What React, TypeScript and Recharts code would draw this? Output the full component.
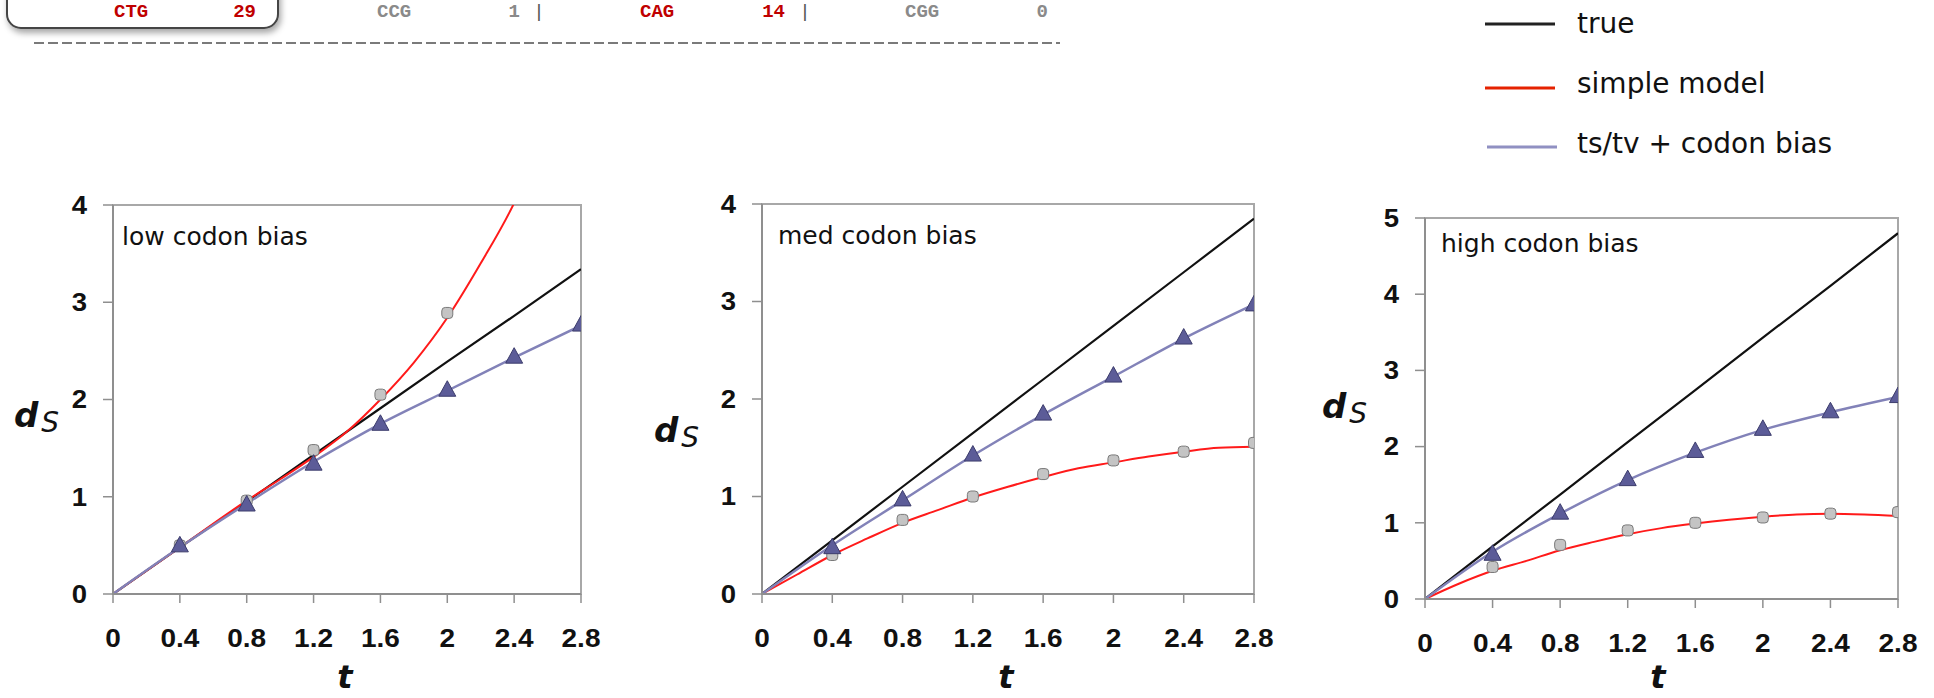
import React from 'react';
import { ComposedChart, Line, Scatter, XAxis, YAxis, ReferenceArea } from 'recharts';

// ---------- data ----------
const T_TICKS = [0, 0.4, 0.8, 1.2, 1.6, 2, 2.4, 2.8];
const T_ALL = [0, 0.4, 0.8, 1.2, 1.6, 2, 2.4, 2.8];
const T_MARK = [0.4, 0.8, 1.2, 1.6, 2, 2.4, 2.8];
const T_FINE = [0, 0.2, 0.4, 0.6, 0.8, 1.0, 1.2, 1.4, 1.6, 1.8, 2.0, 2.2, 2.4, 2.6, 2.8];

// low codon bias
const lowTrue = [0, 0.48, 0.95, 1.43, 1.91, 2.39, 2.86, 3.34];
const lowTsTv = [0, 0.48, 0.93, 1.36, 1.75, 2.09, 2.43, 2.76];
const lowSimpleT = [0, 0.4, 0.8, 1.0, 1.2, 1.4, 1.6, 1.8, 2.0, 2.2, 2.4, 2.5];
const lowSimple = [0, 0.48, 0.96, 1.18, 1.41, 1.67, 2.0, 2.38, 2.84, 3.4, 4.02, 4.4];
const lowGrayT = [0.4, 0.8, 1.2, 1.6, 2.0];
const lowGray = [0.5, 0.96, 1.48, 2.05, 2.89];
const lowTri = [0.49, 0.91, 1.33, 1.74, 2.09, 2.43, 2.76];

// med codon bias
const medTrue = [0, 0.55, 1.1, 1.65, 2.2, 2.75, 3.3, 3.85];
const medTsTv = [0, 0.5, 0.96, 1.42, 1.84, 2.23, 2.62, 2.97];
const medSimple = [0, 0.2, 0.4, 0.57, 0.73, 0.86, 0.99, 1.1, 1.2, 1.29, 1.35, 1.41, 1.46, 1.5, 1.51];
const medGray = [0.4, 0.76, 1.0, 1.23, 1.37, 1.46, 1.55];
const medTri = [0.47, 0.96, 1.42, 1.84, 2.23, 2.62, 2.96];

// high codon bias
const highTrue = [0, 0.69, 1.37, 2.06, 2.74, 3.43, 4.11, 4.8];
const highTsTv = [0, 0.62, 1.12, 1.56, 1.92, 2.22, 2.45, 2.65];
const highSimple = [0, 0.2, 0.37, 0.5, 0.64, 0.75, 0.85, 0.93, 0.99, 1.04, 1.08, 1.11, 1.12, 1.11, 1.09];
const highGray = [0.42, 0.71, 0.9, 1.0, 1.07, 1.12, 1.14];
const highTri = [0.58, 1.12, 1.56, 1.93, 2.22, 2.45, 2.65];

const panelTitles = ['low codon bias', 'med codon bias', 'high codon bias'];
const legendLabels = ['true', 'simple model', 'ts/tv + codon bias'];

// header fragment (codon counts)
const headerCodons = ['CTG', 'CCG', 'CAG', 'CGG'];
const headerCounts = ['29', '1', '14', '0'];

const zip = (ts: number[], vs: number[]) => ts.map((t, i) => ({ t, v: vs[i] }));

// ---------- styles ----------
const C_TRUE = '#111111';
const C_SIMPLE = '#ff1a1a';
const C_TSTV = '#8282b8';
const AXIS = '#8f8f8f';

const panels = [
  {
    title: panelTitles[0], L: 113, R: 581, T: 205, B: 594, yMax: 4, overflow: true,
    trueD: zip(T_ALL, lowTrue), tstv: zip(T_ALL, lowTsTv), simple: zip(lowSimpleT, lowSimple),
    gray: zip(lowGrayT, lowGray), tri: zip(T_MARK, lowTri),
    titleX: 122, titleY: 245, dX: 14, dY: 427, tX: 345,
  },
  {
    title: panelTitles[1], L: 762, R: 1254, T: 204, B: 594, yMax: 4, overflow: false,
    trueD: zip(T_ALL, medTrue), tstv: zip(T_ALL, medTsTv), simple: zip(T_FINE, medSimple),
    gray: zip(T_MARK, medGray), tri: zip(T_MARK, medTri),
    titleX: 778, titleY: 244, dX: 654, dY: 442, tX: 1006,
  },
  {
    title: panelTitles[2], L: 1425, R: 1898, T: 218, B: 599, yMax: 5, overflow: false,
    trueD: zip(T_ALL, highTrue), tstv: zip(T_ALL, highTsTv), simple: zip(T_FINE, highSimple),
    gray: zip(T_MARK, highGray), tri: zip(T_MARK, highTri),
    titleX: 1441, titleY: 252, dX: 1322, dY: 418, tX: 1658,
  },
];

const YW = 100;
const MT = 20;
const MR = 20;
const XH = 100;

const XTick = (props: any) => {
  const { x, y, payload } = props;
  return (
    <text x={x} y={y} dy="0.71em" textAnchor="middle" fontFamily="'Liberation Sans', Arial, sans-serif"
      fontWeight="bold" fontSize={25} fill="#111"
      transform={`translate(${x} 0) scale(1.12 1) translate(${-x} 0)`}>
      {String(payload.value)}
    </text>
  );
};

const YTick = (props: any) => {
  const { x, y, payload } = props;
  return (
    <text x={x} y={y} dy="0.355em" textAnchor="end" fontFamily="'Liberation Sans', Arial, sans-serif"
      fontWeight="bold" fontSize={25} fill="#111"
      transform={`translate(${x} 0) scale(1.1 1) translate(${-x} 0)`}>
      {String(payload.value)}
    </text>
  );
};

const GrayMark = (props: any) => {
  const { cx, cy } = props;
  if (cx == null || cy == null) return null;
  return <rect x={cx - 5.5} y={cy - 5.5} width={11} height={11} rx={3.5} fill="#c4c4c4" stroke="#7a7a7a" strokeWidth={1} />;
};

const TriMark = (props: any) => {
  const { cx, cy } = props;
  if (cx == null || cy == null) return null;
  return <path d={`M${cx},${cy - 10} L${cx + 8.5},${cy + 5.5} L${cx - 8.5},${cy + 5.5} Z`} fill="#5c5c98" stroke="#3c3c6c" strokeWidth={1} />;
};

function Panel({ p }: { p: any }) {
  const w = YW + (p.R - p.L) + MR;
  const h = MT + (p.B - p.T) + XH;
  const yTicks = Array.from({ length: p.yMax + 1 }, (_, i) => i);
  return (
    <div style={{ position: 'absolute', left: p.L - YW, top: p.T - MT }}>
      <ComposedChart width={w} height={h} margin={{ top: MT, right: MR, bottom: 0, left: 0 }}>
        <XAxis dataKey="t" type="number" domain={[0, 2.8]} ticks={T_TICKS} height={XH}
          axisLine={{ stroke: AXIS, strokeWidth: 2 }} tickLine={{ stroke: AXIS, strokeWidth: 1.5 }}
          tickSize={9} tickMargin={26} tick={<XTick />} interval={0} allowDataOverflow />
        <YAxis type="number" domain={[0, p.yMax]} ticks={yTicks} width={YW} allowDataOverflow={p.overflow}
          axisLine={{ stroke: AXIS, strokeWidth: 2 }} tickLine={{ stroke: AXIS, strokeWidth: 1.5 }}
          tickSize={10} tickMargin={16} tick={<YTick />} interval={0} />
        <ReferenceArea x1={0} x2={2.8} y1={0} y2={p.yMax} fill="none" stroke="#a8a8a8" strokeWidth={2} />
        <Line data={p.trueD} dataKey="v" type="linear" stroke={C_TRUE} strokeWidth={2.2} dot={false} activeDot={false} isAnimationActive={false} />
        <Line data={p.simple} dataKey="v" type="monotone" stroke={C_SIMPLE} strokeWidth={2} dot={false} activeDot={false} isAnimationActive={false} />
        <Line data={p.tstv} dataKey="v" type="monotone" stroke={C_TSTV} strokeWidth={2.5} dot={false} activeDot={false} isAnimationActive={false} />
        <Scatter data={p.gray} dataKey="v" shape={<GrayMark />} isAnimationActive={false} />
        <Scatter data={p.tri} dataKey="v" shape={<TriMark />} isAnimationActive={false} />
      </ComposedChart>
    </div>
  );
}

export default function App() {
  const dejavu = "'DejaVu Sans', sans-serif";
  const HY = 17; // header text baseline
  return (
    <div style={{ position: 'absolute', left: 0, top: 0, width: 1934, height: 698, background: '#fff', overflow: 'hidden' }}>
      <svg width={1934} height={698} style={{ position: 'absolute', left: 0, top: 0 }}>
        <defs>
          <filter id="sh" x="-20%" y="-20%" width="140%" height="160%">
            <feDropShadow dx="2" dy="4" stdDeviation="3" floodColor="#000" floodOpacity="0.35" />
          </filter>
        </defs>
        {/* header fragment */}
        <rect x={7} y={-50} width={271} height={78} rx={14} fill="#fff" stroke="#444" strokeWidth={2} filter="url(#sh)" />
        <g fontFamily="'Liberation Mono', 'Courier New', monospace" fontSize={19}>
          <text x={114} y={HY} fill="#c00000" fontWeight="bold">{headerCodons[0]}</text>
          <text x={256} y={HY} fill="#c00000" fontWeight="bold" textAnchor="end">{headerCounts[0]}</text>
          <text x={377} y={HY} fill="#8a8a8a" fontWeight="bold">{headerCodons[1]}</text>
          <text x={520} y={HY} fill="#8a8a8a" fontWeight="bold" textAnchor="end">{headerCounts[1]}</text>
          <text x={539} y={HY} fill="#555" textAnchor="middle">|</text>
          <text x={640} y={HY} fill="#c00000" fontWeight="bold">{headerCodons[2]}</text>
          <text x={785} y={HY} fill="#c00000" fontWeight="bold" textAnchor="end">{headerCounts[2]}</text>
          <text x={805} y={HY} fill="#555" textAnchor="middle">|</text>
          <text x={905} y={HY} fill="#8a8a8a" fontWeight="bold">{headerCodons[3]}</text>
          <text x={1048} y={HY} fill="#8a8a8a" fontWeight="bold" textAnchor="end">{headerCounts[3]}</text>
        </g>
        <line x1={34} y1={43} x2={1060} y2={43} stroke="#7a7a7a" strokeWidth={2} strokeDasharray="10 4" />

        {/* legend */}
        <line x1={1485} y1={24} x2={1555} y2={24} stroke="#222" strokeWidth={3} />
        <line x1={1485} y1={88} x2={1555} y2={88} stroke="#e52200" strokeWidth={3} />
        <line x1={1487} y1={147} x2={1557} y2={147} stroke="#9090c2" strokeWidth={3} />
        <g fontFamily={dejavu} fontSize={28} fill="#111">
          <text x={1577} y={33}>{legendLabels[0]}</text>
          <text x={1577} y={93}>{legendLabels[1]}</text>
          <text x={1577} y={153}>{legendLabels[2]}</text>
        </g>

        {/* panel titles and axis labels */}
        {panels.map((p, i) => (
          <g key={i}>
            <text x={p.titleX} y={p.titleY} fontFamily={dejavu} fontSize={25} fill="#111">{p.title}</text>
            <text x={p.dX} y={p.dY} fontFamily={dejavu} fill="#111">
              <tspan fontSize={34} fontWeight="bold" fontStyle="italic">d</tspan>
              <tspan fontSize={28} fontStyle="italic" dx={3} dy={5}>S</tspan>
            </text>
            <text x={p.tX} y={688} textAnchor="middle" fontFamily={dejavu} fontSize={32} fontWeight="bold" fontStyle="italic" fill="#111">t</text>
          </g>
        ))}
      </svg>
      {panels.map((p, i) => <Panel key={i} p={p} />)}
    </div>
  );
}
